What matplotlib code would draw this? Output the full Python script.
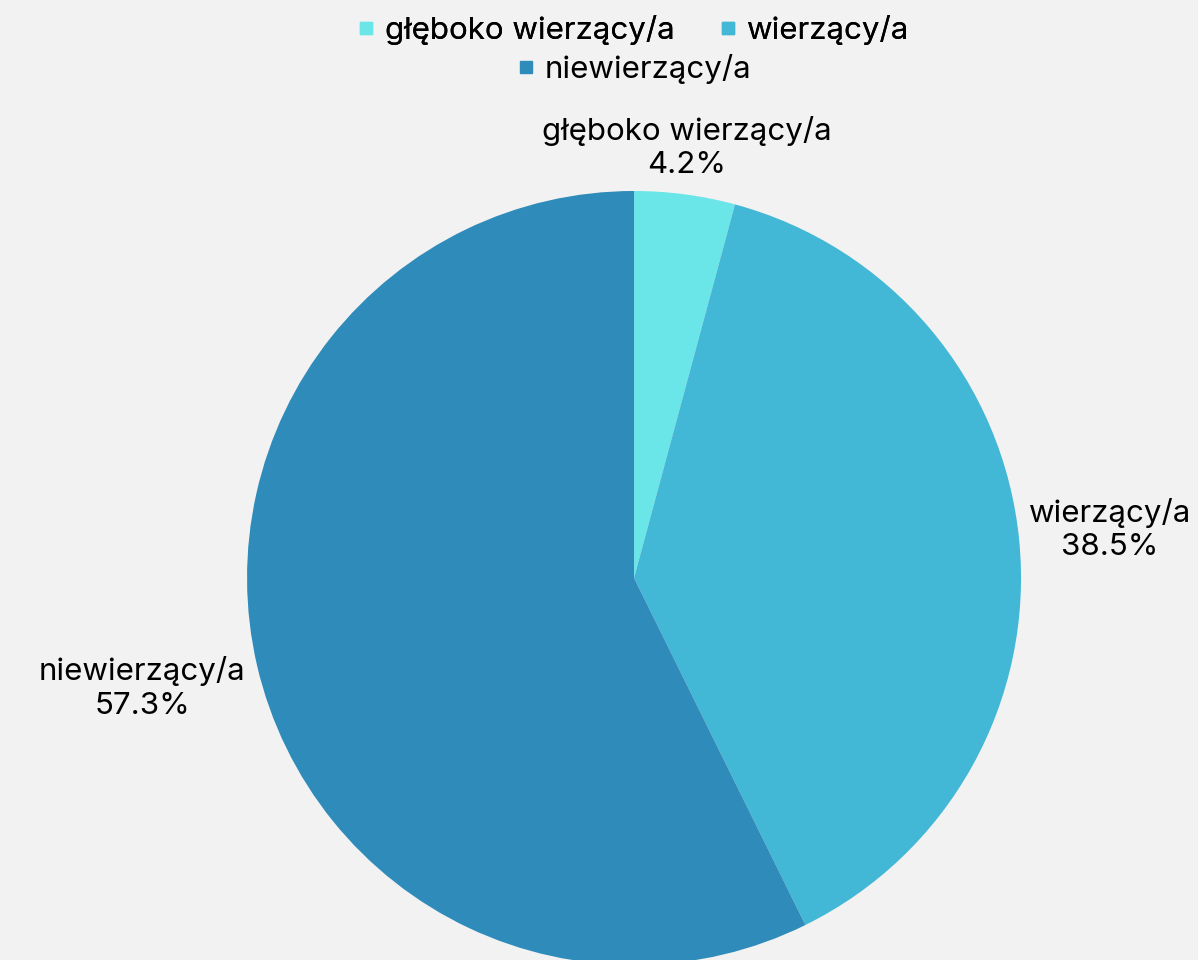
import numpy as np
import matplotlib.pyplot as plt
from matplotlib.lines import Line2D

plt.rcParams['font.family'] = ['Inter', 'DejaVu Sans']

categories = ["głęboko wierzący/a", "wierzący/a", "niewierzący/a"]
shares = [4.2, 38.5, 57.3]
colors = ["#6ae5e8", "#42b7d6", "#2e8bba"]

fig = plt.figure(figsize=(11.98, 9.6), dpi=100, facecolor="#f2f2f2")
ax = fig.add_axes([0.2062, -0.0052, 0.6461, 0.80625])
ax.set_facecolor("#f2f2f2")

wedges, _ = ax.pie(shares, colors=colors, startangle=90, counterclock=False,
                   radius=1, wedgeprops=dict(linewidth=0))
ax.set_xlim(-1, 1)
ax.set_ylim(-1, 1)
ax.set_aspect("equal")
ax.axis("off")

# label placement per slice: distance from centre, alignment, nudge in points
label_style = [(1.04, "center", "bottom", (0, 0)),
               (1.025, "left", "center", (0, 7)),
               (1.03, "right", "center", (0, -14))]
for w, name, val, (d, ha, va, off) in zip(wedges, categories, shares, label_style):
    ang = np.deg2rad((w.theta1 + w.theta2) / 2)
    x, y = d * np.cos(ang), d * np.sin(ang)
    ax.annotate(f"{name}\n{val}%", (x, y), xytext=off, textcoords="offset points",
                ha=ha, va=va, multialignment="center", fontsize=22.5,
                linespacing=1.25, annotation_clip=False)

handles = [Line2D([], [], marker="s", linestyle="none", markersize=8,
                  markerfacecolor=c, markeredgecolor=c) for c in colors]
leg1 = fig.legend(handles[:2], categories[:2], loc="upper center", ncol=2,
                  bbox_to_anchor=(0.527, 1.014), frameon=False, fontsize=22.5,
                  handletextpad=0.2, columnspacing=1.3, handlelength=0.8)
fig.add_artist(leg1)
fig.legend(handles[2:], categories[2:], loc="upper center", ncol=1,
           bbox_to_anchor=(0.528, 0.973), frameon=False, fontsize=22.5,
           handletextpad=0.2, handlelength=0.8)

fig.savefig("out.png", dpi=100, facecolor=fig.get_facecolor())
